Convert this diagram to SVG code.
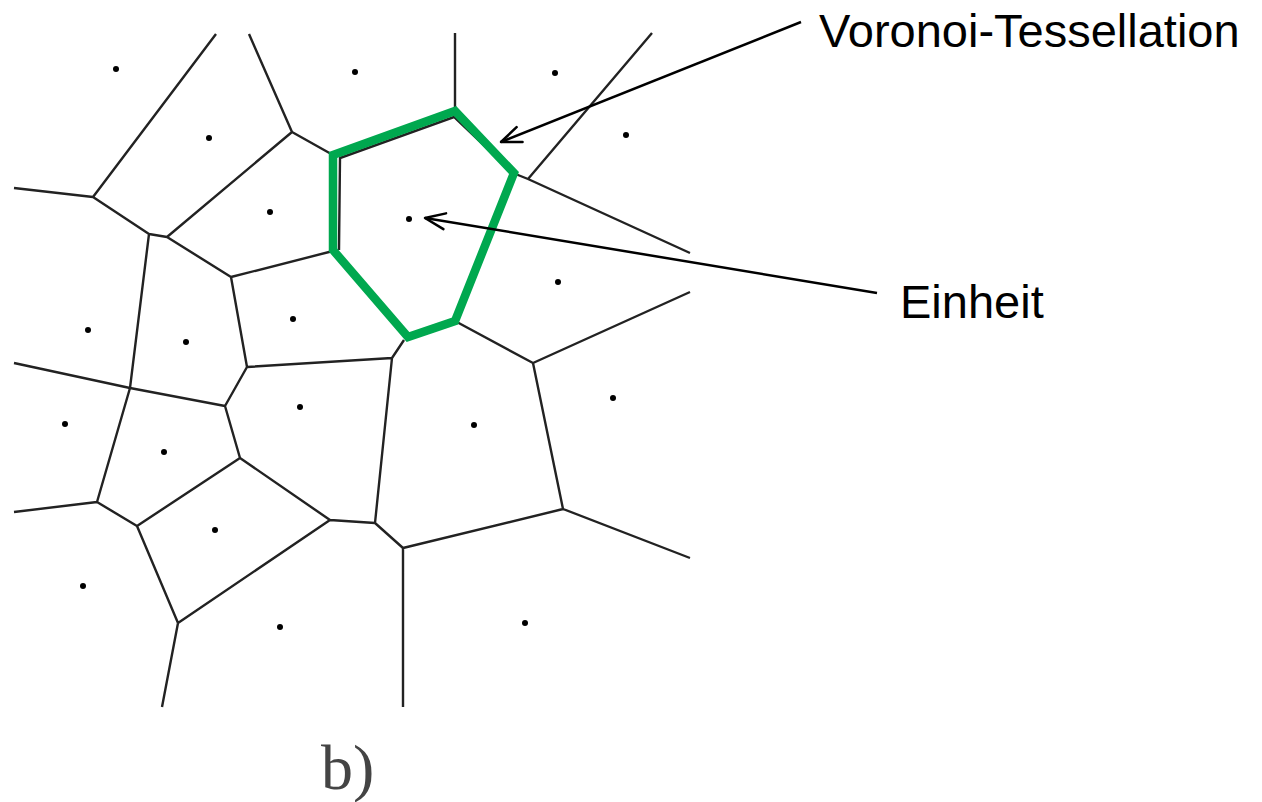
<svg xmlns="http://www.w3.org/2000/svg" width="1262" height="802" viewBox="0 0 1262 802">
  <defs>
    <style>
      .edge { stroke: #222; stroke-width: 2.4; fill: none; stroke-linecap: butt; stroke-linejoin: round; }
      .seed { fill: #000; }
      .cell { stroke: #00A84F; stroke-width: 8.5; fill: none; stroke-linejoin: miter; }
      .label { font-family: "Liberation Sans", Arial, sans-serif; font-size: 47px; fill: #000; }
      .caption { font-family: "Liberation Serif", "Times New Roman", serif; font-size: 64px; fill: #444; }
      .arrow { stroke: #000; stroke-width: 2.5; fill: none; marker-end: url(#openArrow); }
    </style>
    <marker id="openArrow" markerUnits="userSpaceOnUse" markerWidth="30" markerHeight="24" viewBox="-24 -12 28 24" refX="0" refY="0" orient="auto">
      <path d="M-20,-8 L0,0 L-20,8" stroke="#000" stroke-width="2.5" fill="none" stroke-linejoin="round" stroke-linecap="round"/>
    </marker>
  </defs>
  <rect width="1262" height="802" fill="#fff"/>

  <g id="tessellation">
    <path class="edge" d="M216,34 L93,197 M93,197 L14,188 M93,197 L149,234 M249,34 L292,132 M292,132 L333,155 M292,132 L167,237 M149,234 L167,237 M149,234 L130,388 M167,237 L231,277 M231,277 L333,251 M231,277 L247,367 M247,367 L392,358 M247,367 L225,406 M130,388 L14,363 M130,388 L225,406 M130,388 L97,502 M225,406 L240,458 M240,458 L137,526 M240,458 L330,520 M97,502 L14,512 M97,502 L137,526 M137,526 L178,623 M178,623 L330,520 M178,623 L162,707 M330,520 L375,523 M375,523 L392,358 M375,523 L403,548 M403,548 L403,707 M403,548 L563,509 M563,509 L690,558 M563,509 L533,363 M533,363 L690,292 M533,363 L455,321 M392,358 L404,340 M455,33 L455,113 M513,173 L528,179 M528,179 L652,33 M528,179 L690,253"/>
    <path class="edge" d="M339,250 L340,158 L454,117 L513,173"/>
  </g>

  <g id="seeds">
    <circle class="seed" cx="116" cy="69" r="3"/>
    <circle class="seed" cx="355" cy="72" r="3"/>
    <circle class="seed" cx="555" cy="73" r="3"/>
    <circle class="seed" cx="209" cy="138" r="3"/>
    <circle class="seed" cx="626" cy="135" r="3"/>
    <circle class="seed" cx="270" cy="212" r="3"/>
    <circle class="seed" cx="409" cy="219" r="3"/>
    <circle class="seed" cx="558" cy="282" r="3"/>
    <circle class="seed" cx="88" cy="330" r="3"/>
    <circle class="seed" cx="186" cy="342" r="3"/>
    <circle class="seed" cx="293" cy="319" r="3"/>
    <circle class="seed" cx="613" cy="398" r="3"/>
    <circle class="seed" cx="65" cy="424" r="3"/>
    <circle class="seed" cx="300" cy="407" r="3"/>
    <circle class="seed" cx="474" cy="425" r="3"/>
    <circle class="seed" cx="164" cy="452" r="3"/>
    <circle class="seed" cx="215" cy="530" r="3"/>
    <circle class="seed" cx="83" cy="586" r="3"/>
    <circle class="seed" cx="280" cy="627" r="3"/>
    <circle class="seed" cx="525" cy="623" r="3"/>
  </g>

  <g id="highlight-cell">
    <polygon class="cell" points="333,155 455,111 514,173 455,321 408,337 333,250"/>
  </g>

  <g id="connectors">
    <line class="arrow" x1="801" y1="22" x2="501" y2="142"/>
    <line class="arrow" x1="877" y1="293" x2="425" y2="218"/>
  </g>

  <g id="label-voronoi">
    <text class="label" x="819" y="47">Voronoi-Tessellation</text>
  </g>
  <g id="label-einheit">
    <text class="label" x="900" y="318">Einheit</text>
  </g>
  <g id="caption">
    <text class="caption" x="321" y="789">b)</text>
  </g>
</svg>
